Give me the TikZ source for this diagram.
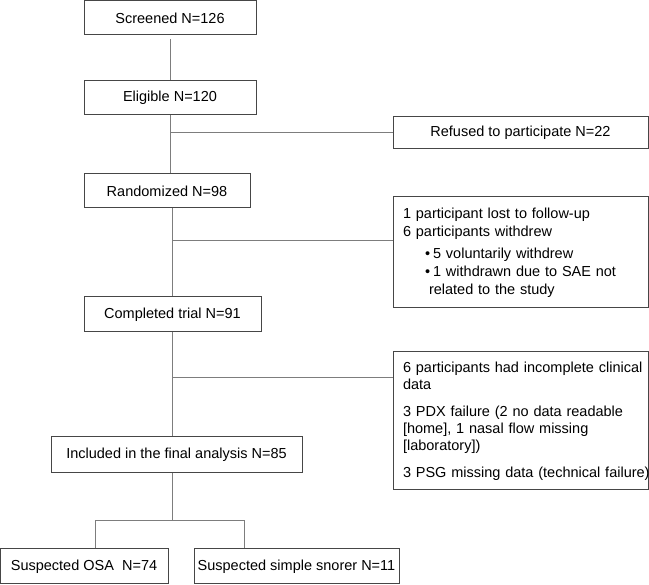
\documentclass[tikz,border=0pt]{standalone}
\usepackage{fontspec}
\setmainfont{Liberation Sans}
\usepackage{tikz}
\usetikzlibrary{positioning}
\definecolor{cB}{RGB}{70,70,70}
\definecolor{cL}{RGB}{125,125,125}

\begin{document}
\begin{tikzpicture}[x=1pt, y=-1pt,
  box/.style={draw=cB, line width=1pt, inner sep=0pt, align=center,
    font=\fontsize{14.5}{17}\selectfont},
  note/.style={box, align=left, text width=235pt, inner xsep=10pt},
  link/.style={draw=cL, line width=1pt}]
  \useasboundingbox (0,0) rectangle (649,585);
  % main column
  \node[box, minimum width=172pt, minimum height=34pt] (screen) at (170,18) {Screened N=126};
  \node[box, minimum width=172pt, minimum height=34pt] (elig) at (170,98) {Eligible N=120};
  \node[box, minimum width=166pt, minimum height=34pt] (rand) at (167,191) {Randomized N=98};
  \node[box, minimum width=177pt, minimum height=35pt] (compl) at (172.5,314.5) {Completed trial N=91};
  \node[box, minimum width=251pt, minimum height=36pt] (incl) at (176.5,455) {Included in the final analysis N=85};
  % groups
  \node[box, minimum width=168pt, minimum height=35pt] (osa) at (84,566.5) {Suspected OSA\ \ N=74};
  \node[box, minimum width=205pt, minimum height=35pt] (snore) at (296.5,566.5) {Suspected simple snorer N=11};
  % exclusions
  \node[box, minimum width=255pt, minimum height=32pt] (refused) at (520.5,133) {Refused to participate N=22};
  \node[note, minimum height=111pt, font=\fontsize{14.5}{18}\selectfont] (withdr) at (520.5,252.5)
    {1 participant lost to follow-up\\
     6 participants withdrew\\[4pt]
     \hspace*{22pt}\textbullet\hspace{3pt}5 voluntarily withdrew\\
     \hspace*{22pt}\textbullet\hspace{3pt}1 withdrawn due to SAE not\\
     \hspace*{26pt}related to the study};
  \node[note, minimum height=138pt] (excl) at (520.5,421)
    {\mbox{6 participants had incomplete clinical}\\
     data\\[10pt]
     3 PDX failure (2 no data readable\\
     \relax[home], 1 nasal flow missing\\
     \relax[laboratory])\\[10pt]
     \mbox{3 PSG missing data (technical failure)}};
  % connectors
  \draw[link, shorten <=4pt] (screen) -- (elig);
  \draw[link] (elig.south) -- (elig.south |- rand.north);
  \draw[link] (elig.south |- refused.west) -- (refused.west);
  \coordinate (wdj) at ([yshift=11.5pt]withdr.west);
  \draw[link] (compl.north |- rand.south) -- (compl.north);
  \draw[link] (compl.north |- wdj) -- (wdj);
  \coordinate (exj) at ([yshift=-26pt]excl.north west);
  \draw[link] (compl.south) -- (compl.south |- incl.north);
  \draw[link] (compl.south |- exj) -- (exj);
  % split
  \coordinate (forkL) at (95,521);
  \coordinate (forkR) at (244,521);
  \draw[link] (compl.south |- incl.south) -- (compl.south |- forkL);
  \draw[link] (forkL |- osa.north) -- (forkL) -- (forkR) -- (forkR |- snore.north);
\end{tikzpicture}
\end{document}
